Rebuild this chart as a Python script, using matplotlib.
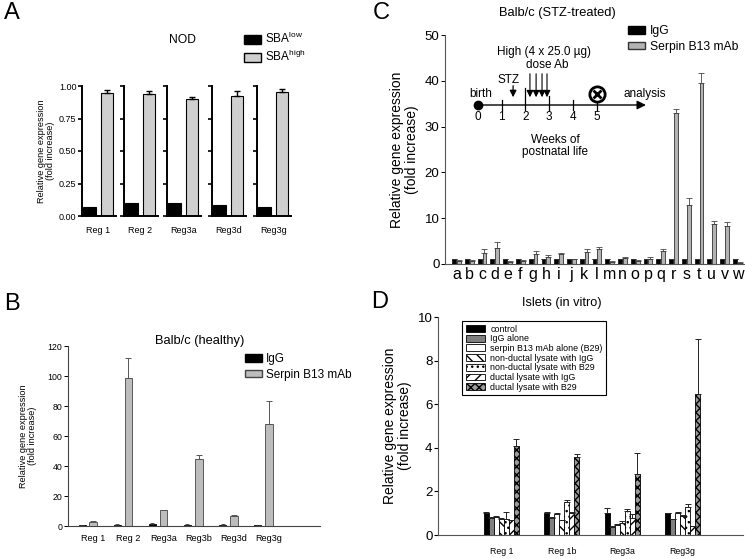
import numpy as np
import matplotlib
matplotlib.use("Agg")
import matplotlib.pyplot as plt
from matplotlib.patches import Patch

plt.rcParams['font.family'] = ['Liberation Sans', 'DejaVu Sans']
plt.rcParams['mathtext.fontset'] = 'custom'
plt.rcParams['mathtext.rm'] = 'Liberation Sans'
plt.rcParams['hatch.linewidth'] = 1.0

W, H = 745, 559
YLAB = "Relative gene expression\n(fold increase)"

# ---- Panel A: NOD ----
a_genes = ["Reg 1", "Reg 2", "Reg3a", "Reg3d", "Reg3g"]
a_low = [0.072, 0.100, 0.098, 0.083, 0.072]
a_high = [0.948, 0.938, 0.899, 0.922, 0.951]
a_high_err = [0.021, 0.023, 0.018, 0.037, 0.023]

# ---- Panel B: Balb/c (healthy) ----
b_genes = ["Reg 1", "Reg 2", "Reg3a", "Reg3b", "Reg3d", "Reg3g"]
b_igg = [0.8, 1.0, 1.2, 1.0, 0.9, 0.7]
b_igg_err = [0.2, 0.3, 0.5, 0.3, 0.2, 0.2]
b_mab = [3.0, 99.0, 10.5, 44.5, 7.0, 68.0]
b_mab_err = [0.4, 13.0, 0.3, 2.8, 0.4, 15.5]

# ---- Panel C: Balb/c (STZ-treated) ----
c_genes = list("abcdefghijklmnopqrstuvw")
c_igg = [1.0] * 23
c_igg_err = [0.12] * 23
c_mab = [0.6, 0.6, 2.4, 3.6, 0.5, 0.6, 2.2, 1.5, 2.2, 1.1, 2.7, 3.3,
         0.4, 1.3, 0.6, 1.2, 2.9, 33.0, 12.8, 39.5, 8.8, 8.3, 0.3]
c_mab_err = [0.2, 0.3, 0.9, 1.2, 0.2, 0.2, 0.6, 0.5, 0.3, 0.1, 0.6, 0.4,
             0.15, 0.3, 0.2, 0.3, 0.3, 0.8, 1.7, 2.2, 0.5, 0.8, 0.2]

# timeline inset (weeks)
weeks = [0, 1, 2, 3, 4, 5]
stz_week = 1.48
dose_weeks = [2.19, 2.45, 2.70, 2.91]
analysis_week = 5

# ---- Panel D: Islets (in vitro) ----
d_genes = ["Reg 1", "Reg 1b", "Reg3a", "Reg3g"]
d_labels = ["control", "IgG alone", "serpin B13 mAb alone (B29)",
            "non-ductal lysate with IgG", "non-ductal lysate with B29",
            "ductal lysate with IgG", "ductal lysate with B29"]
d_control = [1.0, 1.0, 1.0, 1.0]
d_control_err = [0.05, 0.05, 0.24, 0.02]
d_igg = [0.80, 0.80, 0.37, 0.72]
d_igg_err = [0.02, 0.02, 0.02, 0.03]
d_mab = [0.83, 0.97, 0.45, 1.0]
d_mab_err = [0.03, 0.05, 0.05, 0.05]
d_nd_igg = [0.72, 0.68, 0.55, 0.85]
d_nd_igg_err = [0.05, 0.02, 0.10, 0.05]
d_nd_b29 = [0.75, 1.50, 1.10, 1.30]
d_nd_b29_err = [0.30, 0.12, 0.08, 0.12]
d_d_igg = [0.68, 1.00, 0.78, 0.40]
d_d_igg_err = [0.02, 0.05, 0.17, 0.02]
d_d_b29 = [4.10, 3.60, 2.80, 6.45]
d_d_b29_err = [0.30, 0.10, 0.98, 2.55]


def px_axes(fig, l, t, r, b):
    # axes placed by pixel box (left, top, right, bottom)
    return fig.add_axes([l / W, 1 - b / H, (r - l) / W, (b - t) / H])


def up_err(ax, x, y, err, lw=0.8, cap=2.5, color='k'):
    ax.errorbar(x, y, yerr=[np.zeros(len(err)), err], fmt='none', ecolor=color,
                elinewidth=lw, capsize=cap, capthick=lw)


fig = plt.figure(figsize=(W / 100, H / 100), dpi=100)

# panel letters
for letter, (x, y) in zip("ABCD", [(12, 13), (12, 304), (381, 13), (380, 302)]):
    fig.text(x / W, 1 - y / H, letter, fontsize=17, ha='center', va='center')

# ================= A =================
a_lefts = [82, 124, 167, 212, 257]
for i, g in enumerate(a_genes):
    ax = px_axes(fig, a_lefts[i], 86, a_lefts[i] + 34, 216)
    ax.bar(0, a_low[i], width=0.9, color='black', edgecolor='black', lw=0.8)
    ax.bar(1.3, a_high[i], width=0.9, color='#cfcfcf', edgecolor='black', lw=0.8)
    up_err(ax, [1.3], [a_high[i]], [a_high_err[i]], lw=1.0, cap=2.5)
    ax.set_xlim(-0.55, 1.95)
    ax.set_ylim(0, 1.0)
    ax.set_yticks([0, 0.25, 0.5, 0.75, 1.0])
    ax.set_xticks([0.65])
    ax.set_xticklabels([g], fontsize=6.5)
    ax.tick_params(axis='x', length=0, pad=7)
    ax.tick_params(axis='y', direction='out', length=3, width=1.2, labelsize=6.5, pad=1)
    for s in ['top', 'right']:
        ax.spines[s].set_visible(False)
    for s in ['left', 'bottom']:
        ax.spines[s].set_linewidth(1.4)
    if i == 0:
        ax.set_yticklabels(["0.00", "0.25", "0.50", "0.75", "1.00"])
        ax.set_ylabel(YLAB, fontsize=6.6, linespacing=1.0, labelpad=3)
    else:
        ax.set_yticklabels([])

fig.text(183 / W, 1 - 40 / H, "NOD", fontsize=8.7, ha='center', va='center')
fig.legend(handles=[Patch(fc='black', ec='black'), Patch(fc='#cfcfcf', ec='black')],
           labels=["SBA$^{\\mathrm{low}}$", "SBA$^{\\mathrm{high}}$"],
           loc='upper left', bbox_to_anchor=(244 / W, 1 - 31 / H), frameon=False,
           fontsize=8.5, handlelength=1.4, handleheight=0.8, handletextpad=0.4,
           labelspacing=0.25, borderpad=0, borderaxespad=0)

# ================= B =================
axb = px_axes(fig, 68, 346, 320, 526)
xb = np.arange(len(b_genes))
axb.bar(xb - 0.32, b_igg, width=0.2, color='black', edgecolor='black', lw=0.6)
axb.bar(xb, b_mab, width=0.22, color='#bdbdbd', edgecolor='#444444', lw=0.6)
up_err(axb, xb - 0.32, b_igg, b_igg_err, lw=0.6, cap=1.5, color='#333333')
up_err(axb, xb, b_mab, b_mab_err, lw=0.7, cap=2.5, color='#555555')
axb.set_xlim(-0.72, 6.45)
axb.set_ylim(0, 120)
axb.set_yticks(range(0, 121, 20))
axb.set_xticks(xb)
axb.set_xticklabels(b_genes, fontsize=6.6)
axb.tick_params(axis='x', length=0, pad=6)
axb.tick_params(axis='y', direction='out', length=3, width=0.7, labelsize=6.3, pad=1)
axb.set_ylabel(YLAB, fontsize=6.6, linespacing=1.0, labelpad=8)
for s in ['top', 'right']:
    axb.spines[s].set_visible(False)
for s in ['left', 'bottom']:
    axb.spines[s].set_linewidth(0.8)
    axb.spines[s].set_color('#444444')
fig.text(200 / W, 1 - 341 / H, "Balb/c (healthy)", fontsize=9.3, ha='center', va='center')
fig.legend(handles=[Patch(fc='black', ec='black'), Patch(fc='#bdbdbd', ec='#444444')],
           labels=["IgG", "Serpin B13 mAb"],
           loc='upper left', bbox_to_anchor=(245 / W, 1 - 353 / H), frameon=False,
           fontsize=8.5, handlelength=1.4, handleheight=0.6, handletextpad=0.4,
           labelspacing=0.3, borderpad=0, borderaxespad=0)

# ================= C =================
axc = px_axes(fig, 445, 35, 745, 264)
xc = np.arange(len(c_genes))
axc.bar(xc - 0.19, c_igg, width=0.3, color='black', edgecolor='black', lw=0.5)
axc.bar(xc + 0.19, c_mab, width=0.3, color='#b3b3b3', edgecolor='#333333', lw=0.6)
up_err(axc, xc - 0.19, c_igg, c_igg_err, lw=0.6, cap=1.8, color='#333333')
up_err(axc, xc + 0.19, c_mab, c_mab_err, lw=0.6, cap=2.2, color='#444444')
axc.set_xlim(-0.9, 22.6)
axc.set_ylim(0, 50)
axc.set_yticks(range(0, 51, 10))
axc.set_xticks(xc)
axc.set_xticklabels(c_genes, fontsize=11.5)
axc.tick_params(axis='x', length=0, pad=2)
axc.tick_params(axis='y', direction='out', length=3, width=0.7, labelsize=9.5, pad=1)
axc.set_ylabel(YLAB, fontsize=10, linespacing=1.05, labelpad=4)
for s in ['top', 'right']:
    axc.spines[s].set_visible(False)
for s in ['left', 'bottom']:
    axc.spines[s].set_linewidth(0.8)
    axc.spines[s].set_color('#555555')
fig.text(557 / W, 1 - 13 / H, "Balb/c (STZ-treated)", fontsize=9.3, ha='center', va='center')
fig.legend(handles=[Patch(fc='black', ec='black'), Patch(fc='#b3b3b3', ec='#333333')],
           labels=["IgG", "Serpin B13 mAb"],
           loc='upper left', bbox_to_anchor=(628 / W, 1 - 25 / H), frameon=False,
           fontsize=8.7, handlelength=1.4, handleheight=0.6, handletextpad=0.4,
           labelspacing=0.3, borderpad=0, borderaxespad=0)

# timeline inset
axt = px_axes(fig, 460, 40, 680, 160)
axt.set_xlim(-0.76, 8.52)
axt.set_ylim(120, 0)
axt.axis('off')
line_y = 65
axt.annotate('', xy=(7.2, line_y), xytext=(0, line_y),
             arrowprops=dict(arrowstyle='-|>', color='black', lw=1.0, mutation_scale=13))
axt.plot(0, line_y, 'o', ms=6, color='black')
tick_top = {1: 60, 2: 48, 3: 56, 4: 60, 5: 60}
for w in weeks[1:]:
    axt.plot([w, w], [tick_top[w], 70], color='black', lw=0.9)
for w in weeks:
    axt.text(w, 77, str(w), fontsize=8.5, ha='center', va='center')
axt.text(3.25, 106, "Weeks of\npostnatal life", fontsize=8.5, ha='center', va='center',
         linespacing=1.1)
axt.text(0.13, 54, "birth", fontsize=8.5, ha='center', va='center')
axt.annotate('', xy=(stz_week, 60), xytext=(stz_week, 43),
             arrowprops=dict(arrowstyle='-|>', color='black', lw=0.9, mutation_scale=10))
axt.text(1.27, 40, "STZ", fontsize=8.5, ha='center', va='center')
for w in dose_weeks:
    axt.annotate('', xy=(w, 60), xytext=(w, 31),
                 arrowprops=dict(arrowstyle='-|>', color='black', lw=0.8, mutation_scale=10))
axt.text(2.91, 25, "dose Ab", fontsize=8.5, ha='center', va='center')
axt.text(2.8, 12, "High (4 x 25.0 \u00b5g)", fontsize=8.5, ha='center', va='center')
axt.plot(analysis_week, 54, 'o', ms=11, mfc='white', mec='black', mew=2)
axt.plot(analysis_week, 54, 'x', ms=5.5, color='black', mew=2)
axt.text(7.05, 54, "analysis", fontsize=8.5, ha='center', va='center')

# ================= D =================
axd = px_axes(fig, 438, 317, 743, 535)
xd = np.arange(len(d_genes))
d_vals = [d_control, d_igg, d_mab, d_nd_igg, d_nd_b29, d_d_igg, d_d_b29]
d_errs = [d_control_err, d_igg_err, d_mab_err, d_nd_igg_err, d_nd_b29_err,
          d_d_igg_err, d_d_b29_err]
d_faces = ['black', '#808080', 'white', 'white', 'white', 'white', '#9a9a9a']
d_hatch = [None, None, None, '\\\\\\', '...', '///', 'xxxx']
bw = 0.083
handles = []
for k in range(7):
    xs = xd + (k - 3) * bw
    bars = axd.bar(xs, d_vals[k], width=bw, color=d_faces[k], edgecolor='black',
                   lw=0.6, hatch=d_hatch[k])
    up_err(axd, xs, d_vals[k], d_errs[k], lw=0.7, cap=2.0, color='#222222')
    handles.append(bars)
axd.set_xlim(-1.05, 4.0)
axd.set_ylim(0, 10)
axd.set_yticks(range(0, 11, 2))
axd.set_xticks(xd)
axd.set_xticklabels(d_genes, fontsize=6.3)
axd.tick_params(axis='x', length=0, pad=9)
axd.tick_params(axis='y', direction='out', length=3, width=0.8, labelsize=9.5, pad=1)
axd.set_ylabel(YLAB, fontsize=10, linespacing=1.05, labelpad=4)
for s in ['top', 'right']:
    axd.spines[s].set_visible(False)
for s in ['left', 'bottom']:
    axd.spines[s].set_linewidth(0.8)
    axd.spines[s].set_color('#555555')
fig.text(562 / W, 1 - 303 / H, "Islets (in vitro)", fontsize=9.2, ha='center', va='center')
leg = axd.legend(handles, d_labels, loc='upper left', bbox_to_anchor=(462 / W, 1 - 321 / H),
                 bbox_transform=fig.transFigure, fontsize=6.4, handlelength=2.2,
                 handleheight=0.8, handletextpad=0.6, labelspacing=0.08,
                 borderpad=0.4, borderaxespad=0, fancybox=False, framealpha=1,
                 edgecolor='black')
leg.get_frame().set_linewidth(0.8)

fig.savefig("out.png", dpi=100)
